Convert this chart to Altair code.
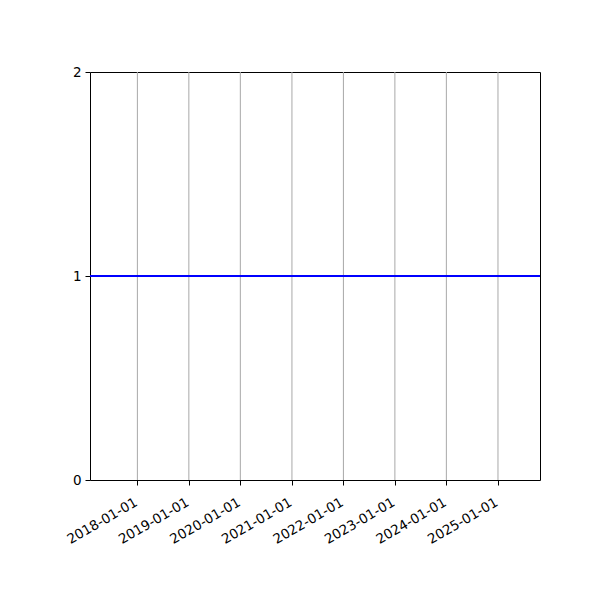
import altair as alt
import pandas as pd

# values
tick_dates = ["2018-01-01", "2019-01-01", "2020-01-01", "2021-01-01",
              "2022-01-01", "2023-01-01", "2024-01-01", "2025-01-01"]
x_range = ["2017-01-30", "2025-10-26"]
level = [1]

ticks_df = pd.DataFrame({"date": pd.to_datetime(tick_dates)})
level_df = pd.DataFrame({"value": level})

font = "DejaVu Sans"

x_scale = alt.Scale(domain=[pd.Timestamp(d).isoformat() for d in x_range], nice=False)
y_scale = alt.Scale(domain=[0, 2], nice=False, zero=False)

grid = (
    alt.Chart(ticks_df)
    .mark_rule(color="#a8a8a8", strokeWidth=1)
    .encode(
        x=alt.X(
            "date:T",
            scale=x_scale,
            title=None,
            axis=alt.Axis(
                values=[pd.Timestamp(d).isoformat() for d in tick_dates],
                format="%Y-%m-%d",
                labelAngle=-30,
                labelAlign="right",
                labelBaseline="top",
                labelOverlap=False,
                labelBound=False,
                labelFlush=False,
                labelOffset=-5,
                grid=False,
                domain=False,
                tickColor="black",
                tickSize=5,
                tickWidth=1,
                labelPadding=10,
                labelFont=font,
                labelFontSize=13.5,
                labelColor="black",
            ),
        )
    )
)

line = (
    alt.Chart(level_df)
    .mark_rule(color="blue", strokeWidth=1.8)
    .encode(
        y=alt.Y(
            "value:Q",
            scale=y_scale,
            title=None,
            axis=alt.Axis(
                tickCount=2,
                labelOverlap=False,
                labelBound=False,
                labelFlush=False,
                grid=False,
                domain=False,
                tickColor="black",
                tickSize=5,
                tickWidth=1,
                labelPadding=4,
                labelFont=font,
                labelFontSize=13.5,
                labelColor="black",
            ),
        )
    )
)

chart = (
    alt.layer(grid, line)
    .properties(
        width=450,
        height=408,
        autosize=alt.AutoSizeParams(type="none"),
        padding={"left": 82, "top": 64, "right": 52, "bottom": 112},
        background="white",
    )
    .configure_view(stroke="black", strokeWidth=1)
)

chart.save("out.html", embed_options={"renderer": "svg", "actions": False})
